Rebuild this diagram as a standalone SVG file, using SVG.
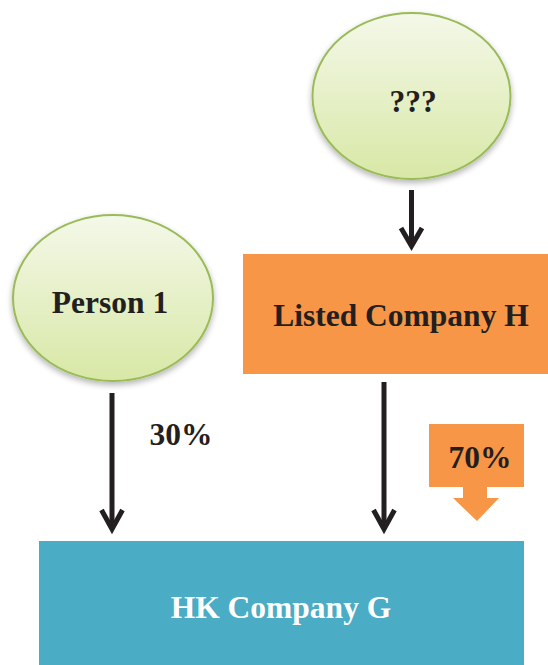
<svg xmlns="http://www.w3.org/2000/svg" width="548" height="665" viewBox="0 0 548 665">
<defs>
<linearGradient id="g" x1="0" y1="0" x2="0" y2="1">
<stop offset="0" stop-color="#F4F8E9"/>
<stop offset="1" stop-color="#D8E8A6"/>
</linearGradient>
<filter id="sh" x="-20%" y="-20%" width="140%" height="150%">
<feGaussianBlur in="SourceAlpha" stdDeviation="3"/>
<feOffset dx="0" dy="3" result="b"/>
<feComponentTransfer><feFuncA type="linear" slope="0.3"/></feComponentTransfer>
<feMerge><feMergeNode/><feMergeNode in="SourceGraphic"/></feMerge>
</filter>
<style>
.ell{fill:url(#g);stroke:#9BBB59;stroke-width:2}
.t{font-family:"Liberation Serif","Times New Roman",serif;font-weight:bold;font-size:31.5px;fill:#231F20;text-anchor:middle}
.w{fill:#FFFFFF}
.ar{fill:none;stroke:#231F20;stroke-width:5}
.hd{fill:none;stroke:#231F20;stroke-width:5;stroke-linejoin:miter;stroke-miterlimit:10}
</style>
</defs>
<g id="unknown">
<ellipse class="ell" cx="411.5" cy="96" rx="99" ry="83" filter="url(#sh)"/>
<text class="t" x="413" y="112">???</text>
</g>
<g id="person1">
<ellipse class="ell" cx="113" cy="298" rx="100" ry="83" filter="url(#sh)"/>
<text class="t" x="110" y="313">Person 1</text>
</g>
<g id="listedH">
<rect x="243" y="254" width="305" height="120" fill="#F79646"/>
<text class="t" x="401" y="326">Listed Company H</text>
</g>
<g id="hkG">
<rect x="39" y="541" width="485" height="124" fill="#4BACC6"/>
<text class="t w" x="281" y="618">HK Company G</text>
</g>
<g id="label70">
<path d="M429 424 H524 V487 H487 V498 H499 L477 521 L453 498 H463 V487 H429 Z" fill="#F79646"/>
<text class="t" x="480" y="468">70%</text>
</g>
<g id="connectors">
<line class="ar" x1="411.5" y1="190" x2="411.5" y2="245"/>
<path class="hd" d="M401 228 L411.5 246 L422 228"/>
<line class="ar" x1="112" y1="393" x2="112" y2="528"/>
<path class="hd" d="M101.5 510 L112 529 L122.5 510"/>
<line class="ar" x1="384" y1="382" x2="384" y2="528"/>
<path class="hd" d="M373.5 510 L384 529 L394.5 510"/>
<text class="t" x="181" y="445">30%</text>
</g>
</svg>
